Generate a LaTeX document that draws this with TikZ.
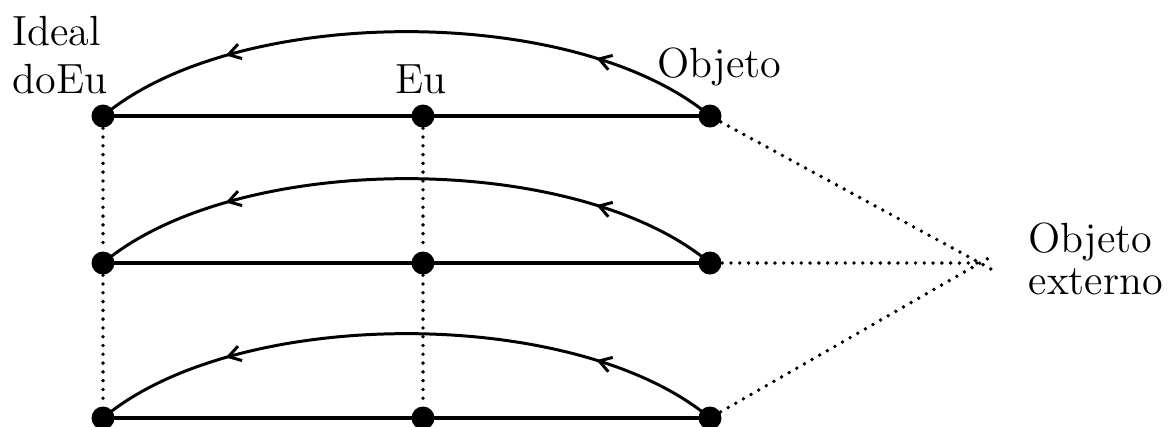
\documentclass[tikz,border=0pt]{standalone}
\usepackage{tikz}
\usetikzlibrary{calc,decorations.markings,arrows.meta}

\begin{document}
\begin{tikzpicture}[
  pt/.style={circle,fill=black,inner sep=0pt,minimum size=0.23cm},
  bar/.style={line width=1.2pt},
  dots/.style={line width=1.1pt,line cap=round,dash pattern=on 0pt off 2.5pt},
  bow/.style={line width=0.85pt,postaction={decorate},decoration={markings,
    mark=at position 0.2 with {\arrow{Straight Barb[length=1.2mm,width=1.5mm]}},
    mark=at position 0.785 with {\arrow{Straight Barb[length=1.2mm,width=1.5mm]}}}},
  lbl/.style={inner sep=0pt,font=\fontsize{12}{13.4}\selectfont}]
\useasboundingbox (0,0) rectangle (11.68,-4.26);
% three rows: ideal, eu, objeto
\foreach \r/\y in {1/-1.16,2/-2.63,3/-4.18} {
  \node[pt] (i\r) at (1.03,\y) {};
  \node[pt] (e\r) at (4.23,\y) {};
  \node[pt] (o\r) at (7.10,\y) {};
}
\foreach \r in {1,2,3} {
  \draw[bar] (i\r.center) -- (o\r.center);
  \draw[bow] (o\r.center) .. controls +(140:1.75) and +(40:1.75) .. (i\r.center);
}
\draw[dots] (i1) -- (i2) -- (i3);
\draw[dots] (e1) -- (e2) -- (e3);
% lines to the outer object
\coordinate (x) at (9.80,-2.63);
\draw[dots] (o1) -- ($(o1.center)!1.055!(x)$);
\draw[dots] (o2) -- (x);
\draw[dots] (o3) -- ($(o3.center)!1.055!(x)$);
% labels
\node[lbl,anchor=north west,align=left] (ideal) at (0.12,-0.16) {Ideal\\doEu};
\node[lbl,anchor=base] (eu) at (4.21,-0.93) {Eu};
\node[lbl,anchor=base west] (obj) at (6.57,-0.77) {Objeto};
\node[lbl,anchor=north west,align=left] (ext) at (10.28,-2.22) {Objeto\\[-1.4pt]externo};
\end{tikzpicture}
\end{document}
